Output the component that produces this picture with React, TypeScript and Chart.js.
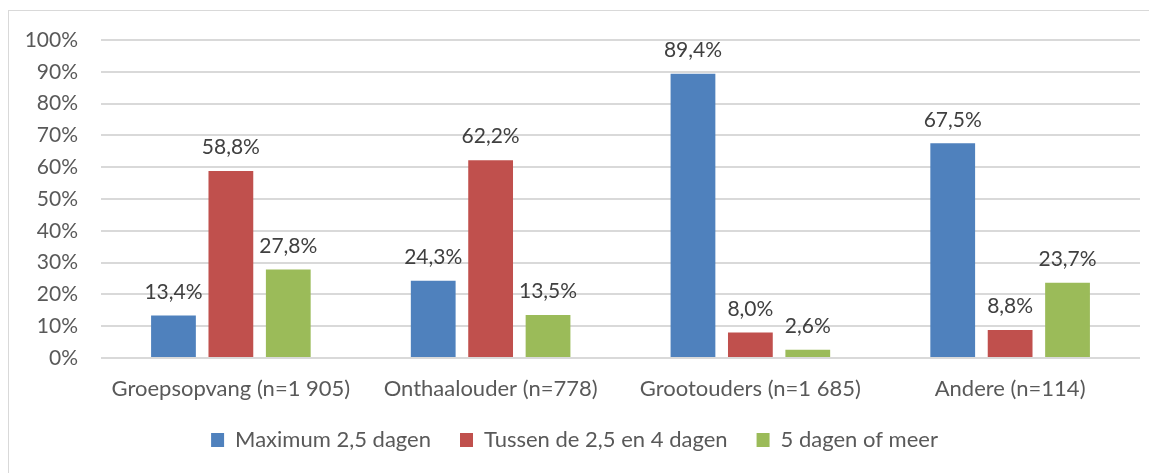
import React, { useEffect, useRef } from "react";
import { Chart, registerables } from "chart.js";

Chart.register(...registerables);

const categories = [
  "Groepsopvang (n=1 905)",
  "Onthaalouder (n=778)",
  "Grootouders (n=1 685)",
  "Andere (n=114)",
];
const seriesNames = ["Maximum 2,5 dagen", "Tussen de 2,5 en 4 dagen", "5 dagen of meer"];
const maxTwoHalf = [13.4, 24.3, 89.4, 67.5];
const betweenTwoHalfFour = [58.8, 62.2, 8.0, 8.8];
const fiveOrMore = [27.8, 13.5, 2.6, 23.7];
const colors = ["#4F81BD", "#C0504D", "#9BBB59"];

const FONT = "Lato, 'Open Sans', sans-serif";

const fmt = (v: number) => v.toFixed(1).replace(".", ",") + "%";

const labelPlugin = {
  id: "valueLabels",
  afterDatasetsDraw(chart: any) {
    const ctx = chart.ctx;
    ctx.save();
    ctx.font = `21px ${FONT}`;
    ctx.fillStyle = "#404040";
    ctx.textAlign = "center";
    ctx.textBaseline = "bottom";
    chart.data.datasets.forEach((ds: any, i: number) => {
      const meta = chart.getDatasetMeta(i);
      meta.data.forEach((el: any, j: number) => {
        ctx.fillText(fmt(ds.data[j]), el.x, el.y - 13);
      });
    });
    ctx.restore();
  },
};

export default function App() {
  const ref = useRef<HTMLCanvasElement>(null);
  useEffect(() => {
    if (!ref.current) return;
    const data = [maxTwoHalf, betweenTwoHalfFour, fiveOrMore];
    const chart = new Chart(ref.current, {
      type: "bar",
      data: {
        labels: categories,
        datasets: seriesNames.map((name, i) => ({
          label: name,
          data: data[i],
          backgroundColor: colors[i],
          categoryPercentage: 0.663,
          barPercentage: 0.78,
        })),
      },
      options: {
        animation: false,
        responsive: false,
        maintainAspectRatio: false,
        layout: { autoPadding: false, padding: { left: 0, right: 17, top: 29, bottom: 12 } },
        plugins: {
          tooltip: { enabled: false },
          legend: {
            position: "bottom",
            labels: {
              font: { family: FONT, size: 22, lineHeight: 1 },
              color: "#595959",
              boxWidth: 13,
              boxHeight: 14,
              padding: 29,
            },
          },
        },
        scales: {
          x: {
            afterFit: (scale: any) => {
              scale.height = 42;
            },
            grid: { display: false, drawTicks: false },
            border: { display: false },
            ticks: {
              font: { family: FONT, size: 22, lineHeight: 1 },
              color: "#595959",
              padding: 20,
            },
          },
          y: {
            min: 0,
            max: 100,
            afterFit: (scale: any) => {
              scale.width = 92;
              scale.paddingTop = 0;
              scale.paddingBottom = 0;
            },
            grid: { color: "#d9d9d9", lineWidth: 2, drawTicks: false },
            border: { display: false },
            ticks: {
              stepSize: 10,
              font: { family: FONT, size: 21 },
              color: "#595959",
              padding: 23,
              callback: (v: any) => v + "%",
            },
          },
        },
      },
      plugins: [labelPlugin],
    });
    return () => chart.destroy();
  }, []);
  return (
    <div style={{ paddingTop: 2 }}>
      <div
        style={{
          borderLeft: "1px solid #d9d9d9",
          borderTop: "1px solid #d9d9d9",
          width: 1148,
          height: 462,
          background: "#fff",
        }}
      >
        <canvas ref={ref} width={1148} height={462} style={{ display: "block" }} />
      </div>
    </div>
  );
}
